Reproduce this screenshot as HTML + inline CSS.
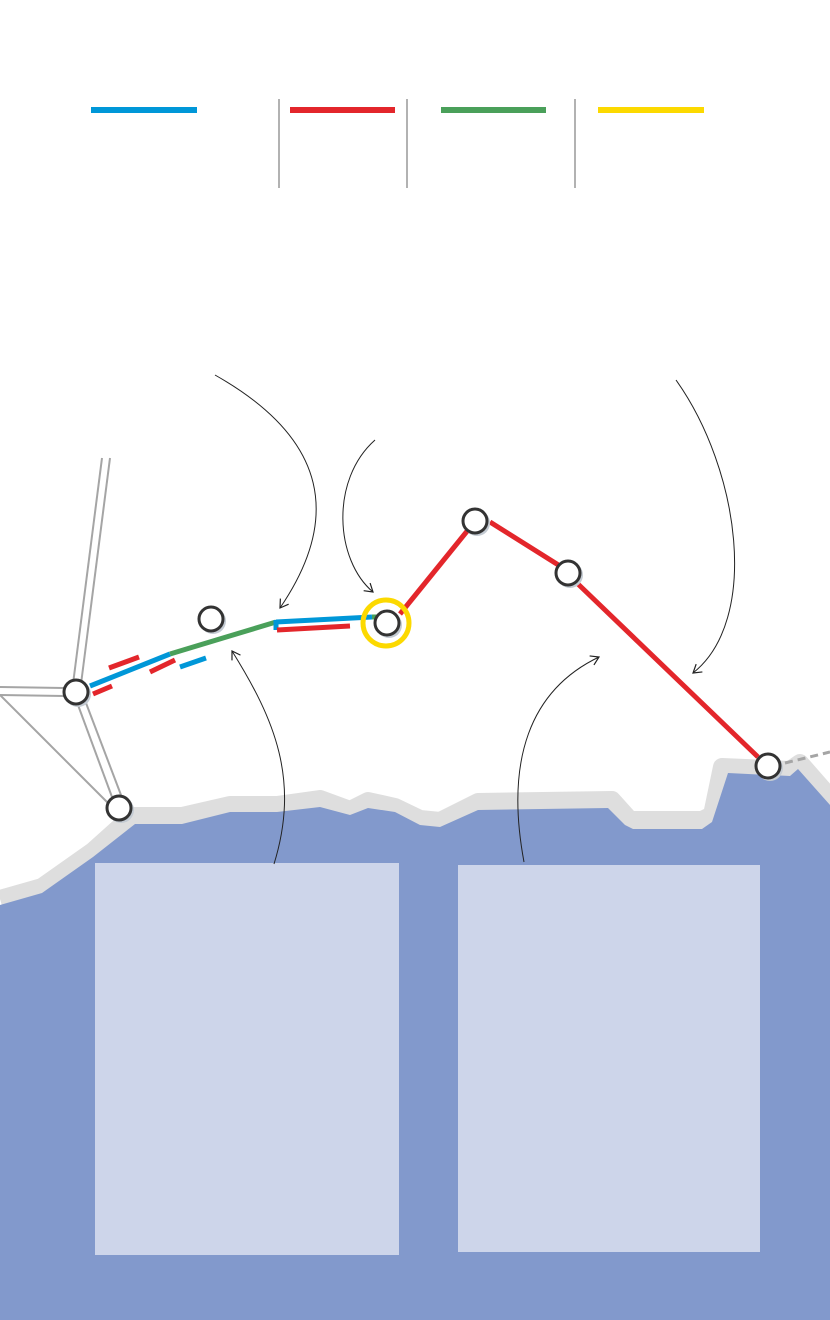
<!DOCTYPE html>
<html><head><style>html,body{margin:0;padding:0;background:#fff}svg{display:block}</style></head>
<body>
<svg width="830" height="1320" viewBox="0 0 830 1320" xmlns="http://www.w3.org/2000/svg">
<defs>
<marker id="ar" markerWidth="12" markerHeight="12" refX="9" refY="6" orient="auto" markerUnits="userSpaceOnUse">
<path d="M1,1 L9,6 L1,11" fill="none" stroke="#222" stroke-width="1.2"/>
</marker>
</defs>
<line x1="91" y1="110" x2="197" y2="110" stroke="#0097d8" stroke-width="6"/>
<line x1="290" y1="110" x2="395" y2="110" stroke="#e3262b" stroke-width="6"/>
<line x1="441" y1="110" x2="546" y2="110" stroke="#4aa05a" stroke-width="6"/>
<line x1="598" y1="110" x2="704" y2="110" stroke="#fcd900" stroke-width="6"/>
<g stroke="#999" stroke-width="1.5">
<line x1="279" y1="99" x2="279" y2="188"/>
<line x1="407" y1="99" x2="407" y2="188"/>
<line x1="575" y1="99" x2="575" y2="188"/>
</g>
<polyline points="0,899 42,887 93,851 132,816 182,816 230,805 277,805 320,799 350,810 368,801 395,807 420,819 440,821 478,802 612,800 630,820 702,820 712,815 722,767 790,770 800,763 835,803" fill="none" stroke="#dedede" stroke-width="18" stroke-linejoin="round"/>
<polygon points="0,905 42,893 93,857 135,824 182,824 230,812 277,812 320,807 350,815 368,808 395,812 420,825 440,827 478,810 608,808 625,825 633,829 702,829 712,822 728,773 790,776 798,769 830,805 830,1320 0,1320" fill="#8299cc"/>
<rect x="95" y="863" width="304" height="392" fill="#cdd5ea"/>
<rect x="458" y="865" width="302" height="387" fill="#cdd5ea"/>
<g stroke="#a5a5a5" stroke-width="2" fill="none">
<line x1="102" y1="458" x2="73" y2="684"/>
<line x1="110" y1="458" x2="81" y2="684"/>
<line x1="0" y1="687" x2="64" y2="688"/>
<line x1="0" y1="695" x2="64" y2="696"/>
<line x1="78" y1="705" x2="112" y2="797"/>
<line x1="86" y1="703" x2="121" y2="795"/>
<line x1="0" y1="695" x2="108" y2="803"/>
</g>
<line x1="785" y1="763" x2="830" y2="752" stroke="#a5a5a5" stroke-width="3" stroke-dasharray="8,5"/>
<g stroke-width="5" fill="none" stroke-linecap="butt">
<line x1="90" y1="686" x2="170" y2="654" stroke="#0097d8"/>
<line x1="170" y1="654" x2="276" y2="622" stroke="#4aa05a"/>
<line x1="276" y1="622" x2="372" y2="617" stroke="#0097d8"/>
<line x1="276" y1="620" x2="276" y2="630" stroke="#0097d8"/>
<line x1="372" y1="617" x2="386" y2="617" stroke="#4aa05a"/>
<line x1="277" y1="630" x2="350" y2="626" stroke="#e3262b"/>
<line x1="109" y1="668" x2="139" y2="657" stroke="#e3262b"/>
<line x1="150" y1="672" x2="175" y2="660" stroke="#e3262b"/>
<line x1="93" y1="694" x2="112" y2="686" stroke="#e3262b"/>
<line x1="180" y1="667" x2="206" y2="658" stroke="#0097d8"/>
<line x1="400" y1="614" x2="468" y2="530" stroke="#e3262b"/>
<line x1="490" y1="522" x2="560" y2="566" stroke="#e3262b"/>
<line x1="578" y1="584" x2="758" y2="757" stroke="#e3262b"/>
</g>
<g stroke="#222" stroke-width="1" fill="none">
<path d="M215,375 C330,440 340,520 280,608" marker-end="url(#ar)"/>
<path d="M375,440 C330,480 335,560 373,592" marker-end="url(#ar)"/>
<path d="M676,380 C740,470 760,620 693,673" marker-end="url(#ar)"/>
<path d="M274,864 C300,780 275,720 232,651" marker-end="url(#ar)"/>
<path d="M524,862 C505,760 530,690 599,657" marker-end="url(#ar)"/>
</g>
<circle cx="386" cy="623" r="23" fill="none" stroke="#fcd900" stroke-width="5"/>
<g>
<g fill="#c4cbd3">
<circle cx="78" cy="694" r="13"/><circle cx="121" cy="810" r="13"/><circle cx="213" cy="621" r="13"/>
<circle cx="389" cy="625" r="13"/><circle cx="477" cy="523" r="13"/><circle cx="570" cy="575" r="13"/><circle cx="770" cy="768" r="13"/>
</g>
<g fill="#fff" stroke="#333" stroke-width="3">
<circle cx="76" cy="692" r="12"/><circle cx="119" cy="808" r="12"/><circle cx="211" cy="619" r="12"/>
<circle cx="387" cy="623" r="12"/><circle cx="475" cy="521" r="12"/><circle cx="568" cy="573" r="12"/><circle cx="768" cy="766" r="12"/>
</g>
</g>
</svg>
</body></html>
